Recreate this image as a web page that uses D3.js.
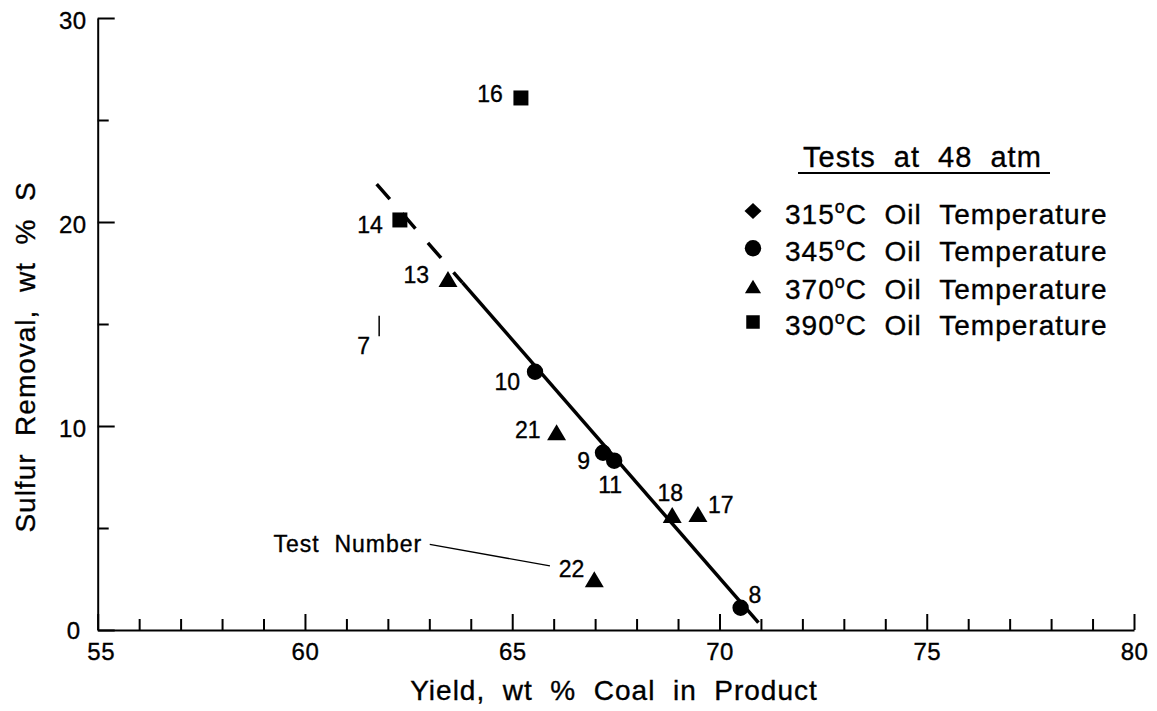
<!DOCTYPE html>
<html>
<head>
<meta charset="utf-8">
<script src="https://cdn.jsdelivr.net/npm/d3@7"></script>
<style>
  body { margin: 0; background: #fff; }
  svg { display: block; font-family: "Liberation Sans", Arial, Helvetica, sans-serif; }
  svg text { stroke: #000; stroke-width: 0.35px; fill: #000; }
</style>
</head>
<body>
<div id="chart"></div>
<script>
// Test results at 48 atm
const testIds      = ["8", "9", "10", "11", "13", "14", "16", "17", "18", "21", "22"];
const oilTemps     = [345, 345, 345, 345, 370, 390, 390, 370, 370, 370, 370];
const yieldPct     = [70.51, 67.19, 65.55, 67.46, 63.45, 62.29, 65.21, 69.48, 68.86, 66.07, 66.98];
const sulfurRemoval = [1.09, 8.69, 12.66, 8.30, 17.2, 20.1, 26.08, 5.69, 5.64, 9.69, 2.49];

// Test 7 is only drawn as a short bar
const test7Yield = 61.79;
const test7Range = [14.4, 15.4];

// Fitted line: dashed part, then solid part
const fitYield  = [61.73, 63.80, 70.94];
const fitSulfur = [21.86, 17.03, 0.36];

// Legend
const legendTemps  = [315, 345, 370, 390];
const legendShapes = ["diamond", "circle", "triangle", "square"];

// Axis ticks
const xMajorTicks = [55, 60, 65, 70, 75, 80];
const yMajorTicks = [0, 10, 20, 30];
const yMinorTicks = [5, 15, 25];

// "Test Number" callout (data coordinates)
const calloutText = [59.24, 3.84];
const calloutLine = [[63.01, 4.2], [65.91, 3.14]];

const shapeByTemp = {315: "diamond", 345: "circle", 370: "triangle", 390: "square"};

// Label placement around each marker (pixels)
const labelPos = {
    "8":  { anchor: "start",  dx: 8,   dy: -5 },
    "9":  { anchor: "end",    dx: -13, dy: 16 },
    "10": { anchor: "end",    dx: -15, dy: 18 },
    "11": { anchor: "middle", dx: -4,  dy: 32 },
    "13": { anchor: "end",    dx: -19, dy: 4 },
    "14": { anchor: "end",    dx: -17, dy: 13 },
    "16": { anchor: "end",    dx: -18, dy: 4 },
    "17": { anchor: "start",  dx: 10,  dy: -1 },
    "18": { anchor: "middle", dx: -2,  dy: -14 },
    "21": { anchor: "end",    dx: -16, dy: 6 },
    "22": { anchor: "end",    dx: -10, dy: -2 }
}

const W = 1157, H = 711;

const svg = d3.select("#chart")
    .append("svg")
    .attr("width", W)
    .attr("height", H);

svg.append("rect").attr("width", W).attr("height", H).attr("fill", "#fff");

const xScale = d3.scaleLinear().domain([55, 80]).range([97.7, 1134]);
const yScale = d3.scaleLinear().domain([0, 30]).range([630, 18]);

// marker path centred on (cx, cy)
function markerPath(shape, cx, cy, k) {
    k = k || 1;
    const p = d3.path();
    if (shape === "circle") {
        p.arc(cx, cy, 8.2 * k, 0, 2 * Math.PI);
    } else if (shape === "square") {
        const s = 7.5 * k;
        p.rect(cx - s, cy - s, 2 * s, 2 * s);
    } else if (shape === "triangle") {
        const w = 9.5 * k, h = 8 * k;
        p.moveTo(cx, cy - h);
        p.lineTo(cx + w, cy + h);
        p.lineTo(cx - w, cy + h);
        p.closePath();
    } else if (shape === "diamond") {
        const w = 8.5 * k, h = 8 * k;
        p.moveTo(cx, cy - h);
        p.lineTo(cx + w, cy);
        p.lineTo(cx, cy + h);
        p.lineTo(cx - w, cy);
        p.closePath();
    }
    return p.toString();
}

// Axes
const xAxis = svg.append("g")
    .attr("transform", `translate(0,${yScale(0)})`)
    .call(d3.axisBottom(xScale).tickValues(xMajorTicks).tickSize(-16).tickSizeOuter(0).tickPadding(13));

svg.append("g")
    .attr("transform", `translate(0,${yScale(0)})`)
    .call(d3.axisBottom(xScale).tickValues(d3.range(56, 80).filter(v => v % 5 !== 0)).tickSize(-11).tickFormat(""))
    .call(g => g.select(".domain").remove());

const yAxis = svg.append("g")
    .attr("transform", `translate(${xScale(55)},0)`)
    .call(d3.axisLeft(yScale).tickValues(yMajorTicks).tickSize(-17).tickSizeOuter(0).tickPadding(11));

svg.append("g")
    .attr("transform", `translate(${xScale(55)},0)`)
    .call(d3.axisLeft(yScale).tickValues(yMinorTicks).tickSize(-11).tickFormat(""))
    .call(g => g.select(".domain").remove());

svg.selectAll(".domain, .tick line")
    .attr("stroke", "#000")
    .attr("stroke-width", 2);

xAxis.selectAll("text")
    .attr("font-size", 24)
    .attr("font-family", "Liberation Sans, Arial, sans-serif")
    .attr("letter-spacing", 0.5)
    .attr("dx", d => d === 55 ? 3 : 0);

yAxis.selectAll("text")
    .attr("font-size", 24)
    .attr("font-family", "Liberation Sans, Arial, sans-serif")
    .attr("letter-spacing", 0.5)
    .attr("dy", d => d === 0 ? "0.35em" : "0.45em")
    .attr("dx", d => d === 0 ? -6 : 0);

// Axis titles
svg.append("text")
    .attr("x", 614)
    .attr("y", 700)
    .attr("text-anchor", "middle")
    .attr("font-size", 28)
    .attr("letter-spacing", 1)
    .text("Yield, \u00a0wt \u00a0% \u00a0Coal \u00a0in \u00a0Product");

svg.append("text")
    .attr("transform", "rotate(-90)")
    .attr("x", -357)
    .attr("y", 35)
    .attr("text-anchor", "middle")
    .attr("font-size", 28)
    .attr("letter-spacing", 1)
    .text("Sulfur \u00a0Removal, \u00a0wt \u00a0% \u00a0S");

// Fitted line
const fitPts = fitYield.map((v, i) => [xScale(v), yScale(fitSulfur[i])]);
const line = d3.line();

svg.append("path")
    .attr("d", line(fitPts.slice(0, 2)))
    .attr("fill", "none")
    .attr("stroke", "#000")
    .attr("stroke-width", 3.5)
    .attr("stroke-dasharray", "20,19");

svg.append("path")
    .attr("d", line(fitPts.slice(1)))
    .attr("fill", "none")
    .attr("stroke", "#000")
    .attr("stroke-width", 3.5);

// Test 7 bar
svg.append("line")
    .attr("x1", xScale(test7Yield)).attr("x2", xScale(test7Yield))
    .attr("y1", yScale(test7Range[0])).attr("y2", yScale(test7Range[1]))
    .attr("stroke", "#000")
    .attr("stroke-width", 1.5);

svg.append("text")
    .attr("x", xScale(test7Yield) - 9)
    .attr("y", yScale(d3.mean(test7Range)) + 28)
    .attr("text-anchor", "end")
    .attr("font-size", 23)
    .text("7");

// Markers
const points = testIds.map((id, i) => ({
    id: id,
    temp: oilTemps[i],
    x: yieldPct[i],
    y: sulfurRemoval[i]
}));

svg.append("g")
    .selectAll("path")
    .data(points)
    .enter()
    .append("path")
    .attr("d", d => markerPath(shapeByTemp[d.temp], xScale(d.x), yScale(d.y)))
    .attr("fill", "#000");

svg.append("g")
    .selectAll("text")
    .data(points)
    .enter()
    .append("text")
    .attr("x", d => xScale(d.x) + labelPos[d.id].dx)
    .attr("y", d => yScale(d.y) + labelPos[d.id].dy)
    .attr("text-anchor", d => labelPos[d.id].anchor)
    .attr("font-size", 23)
    .text(d => d.id);

// "Test Number" callout
svg.append("text")
    .attr("x", xScale(calloutText[0]))
    .attr("y", yScale(calloutText[1]))
    .attr("font-size", 23)
    .attr("letter-spacing", 1)
    .text("Test \u00a0Number");

svg.append("path")
    .attr("d", line(calloutLine.map(d => [xScale(d[0]), yScale(d[1])])))
    .attr("stroke", "#000")
    .attr("stroke-width", 1.3)
    .attr("fill", "none");

// Legend
const legend = svg.append("g");

legend.append("text")
    .attr("x", 803)
    .attr("y", 166.7)
    .attr("font-size", 29)
    .attr("letter-spacing", 1)
    .text("Tests \u00a0at \u00a048 \u00a0atm");

legend.append("line")
    .attr("x1", 798).attr("x2", 1050)
    .attr("y1", 173).attr("y2", 173)
    .attr("stroke", "#000")
    .attr("stroke-width", 2);

const rowY = [211, 248.3, 286.5, 322];

legend.selectAll("path.legend")
    .data(legendTemps)
    .enter()
    .append("path")
    .attr("class", "legend")
    .attr("d", (d, i) => markerPath(legendShapes[i], 753, rowY[i], legendShapes[i] === "triangle" ? 0.85 : (legendShapes[i] === "square" ? 0.9 : 1)))
    .attr("fill", "#000");

const legendText = legend.selectAll("text.legendtext")
    .data(legendTemps)
    .enter()
    .append("text")
    .attr("class", "legendtext")
    .attr("x", 785)
    .attr("y", (d, i) => rowY[i] + 12.5)
    .attr("font-size", 28)
    .attr("letter-spacing", 1);

legendText.append("tspan").text(d => d);
legendText.append("tspan").attr("font-size", 18).attr("dy", -11).text("o");
legendText.append("tspan").attr("dy", 11).text("C \u00a0Oil \u00a0Temperature");
</script>
</body>
</html>
